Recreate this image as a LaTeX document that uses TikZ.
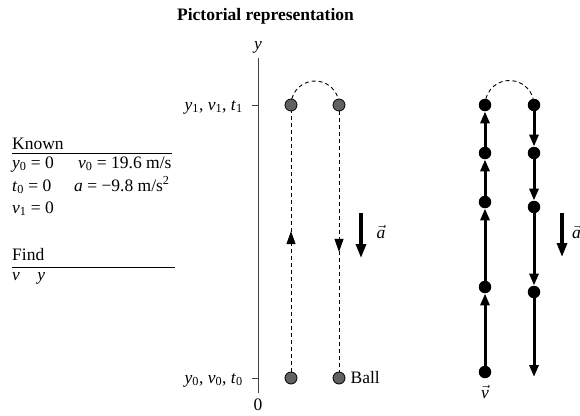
\documentclass[tikz,border=0pt]{standalone}
\usepackage{fontspec}
\setmainfont{Liberation Serif}
\usetikzlibrary{arrows.meta,decorations.markings,calc}
\newcommand\mi[1]{\textit{#1}}
\newcommand\vecit[1]{\ensuremath{\vec{\mbox{\itshape #1}}}}
\begin{document}
\begin{tikzpicture}[x=1pt,y=-1pt,
  txt/.style={inner sep=0pt, font=\fontsize{17.5}{21}\selectfont},
  ttl/.style={inner sep=0pt, font=\fontsize{17.5}{21}\selectfont\bfseries},
  gdot/.style={circle, draw=black, fill=black!62, minimum size=12pt, inner sep=0pt, line width=0.8pt},
  bdot/.style={circle, fill=black, minimum size=12.5pt, inner sep=0pt},
  dline/.style={line width=0.9pt, dash pattern=on 4pt off 3pt},
  midarrow/.style={postaction={decorate, decoration={markings,
      mark=at position #1 with {\arrow[solid]{Triangle[length=13pt,width=9pt]}}}}},
  motion/.style={line width=3pt, -{Triangle[length=12pt,width=9pt]}},
  avec/.style={line width=3.2pt, -{Triangle[length=14pt,width=10pt]}},
  axis/.style={line width=1pt, black!75}
  ]
\useasboundingbox (0,0) rectangle (580,415);

% title
\node[ttl, anchor=base] (title) at (265.5,20) {Pictorial representation};

% known / find block
\node[txt, anchor=base west] (known) at (12,149) {Known};
\draw[line width=0.9pt] (12,153) coordinate (kl1) -- (172,153) coordinate (kl2);
\node[txt, anchor=base west] (k1) at (12,168) {\mi{y}\textsubscript{0} = 0};
\node[txt, anchor=base west] (k2) at (78,168) {\mi{v}\textsubscript{0} = 19.6 m/s};
\node[txt, anchor=base west] (k3) at (12,191) {\mi{t}\textsubscript{0} = 0};
\node[txt, anchor=base west] (k4) at (74,191) {\mi{a} = −9.8 m/s\textsuperscript{2}};
\node[txt, anchor=base west] (k5) at (12,213) {\mi{v}\textsubscript{1} = 0};
\node[txt, anchor=base west] (find) at (12,260) {Find};
\draw[line width=0.9pt] (12,267) coordinate (fl1) -- (175,267) coordinate (fl2);
\node[txt, anchor=base west] (f1) at (12,280) {\mi{v}\quad\mi{y}};

% axis
\coordinate (ax0) at (258,393);
\coordinate (ax1) at (258,58);
\draw[axis] (ax0) -- (ax1);
\coordinate (t1a) at (252,105); \coordinate (t1b) at (258,105);
\coordinate (t0a) at (252,378); \coordinate (t0b) at (258,378);
\draw[axis] (t1a) -- (t1b);
\draw[axis] (t0a) -- (t0b);
\node[txt, anchor=base] (ylab) at (258,49) {\mi{y}};
\node[txt, anchor=base] (zero) at (258,410) {0};
\node[txt, anchor=base east] (lab1) at (243,110) {\mi{y}\textsubscript{1}, \mi{v}\textsubscript{1}, \mi{t}\textsubscript{1}};
\node[txt, anchor=base east] (lab0) at (243,383) {\mi{y}\textsubscript{0}, \mi{v}\textsubscript{0}, \mi{t}\textsubscript{0}};

% pictorial motion (gray dots)
\node[gdot] (m1) at (291,105) {};
\node[gdot] (m2) at (339,105) {};
\node[gdot] (m0) at (291,378) {};
\node[gdot] (m3) at (339,378) {};
\draw[dline, midarrow=0.54] (m0) -- (m1);
\draw[dline, midarrow=0.54] (m2) -- (m3);
\draw[dline] ($(m1)!0.5!(m2)$) ++(-165:24) arc[start angle=-165, end angle=-15, radius=24];
\node[txt, anchor=west] (ball) at ([xshift=5pt]m3.east) {Ball};

% acceleration arrow (middle)
\coordinate (a1s) at (361,213);
\coordinate (a1e) at (361,258);
\draw[avec] (a1s) -- (a1e);
\node[txt] (a1lab) at (381,232) {\vecit{a}};

% motion diagram (right)
\node[bdot] (L1) at (485,372) {};
\node[bdot] (L2) at (485,287) {};
\node[bdot] (L3) at (485,202) {};
\node[bdot] (L4) at (485,153) {};
\node[bdot] (L5) at (485,105) {};
\node[bdot] (R1) at (534,105) {};
\node[bdot] (R2) at (534,153) {};
\node[bdot] (R3) at (534,207) {};
\node[bdot] (R4) at (534,292) {};
\coordinate (R5) at (534,377);
\draw[motion] (L1) -- (L2);
\draw[motion] (L2) -- (L3);
\draw[motion] (L3) -- (L4);
\draw[motion] (L4) -- (L5);
\draw[motion] (R1) -- (R2);
\draw[motion] (R2) -- (R3);
\draw[motion] (R3) -- (R4);
\draw[motion] (R4) -- (R5);
\draw[dline] ($(L5)!0.5!(R1)$) ++(-165:24.5) arc[start angle=-165, end angle=-15, radius=24.5];
\node[txt] (vlab) at (485,392) {\vecit{v}};

% acceleration arrow (right)
\coordinate (a2s) at (562,213);
\coordinate (a2e) at (562,257);
\draw[avec] (a2s) -- (a2e);
\node[txt, anchor=west] (a2lab) at (572,232) {\vecit{a}};
\end{tikzpicture}
\end{document}
